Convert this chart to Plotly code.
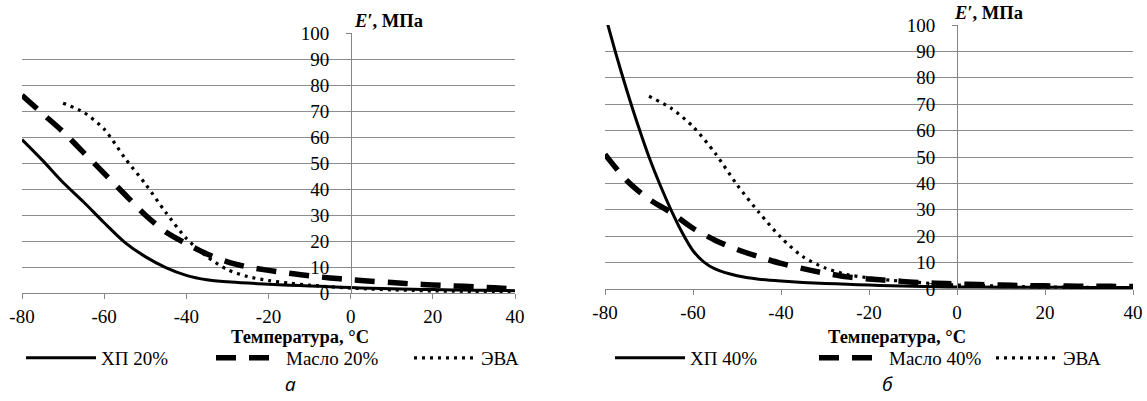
import plotly.graph_objects as go

# ---------------- data ----------------
x_ticks = [-80, -60, -40, -20, 0, 20, 40]
x_ticktext = ["-80", "-60", "-40", "-20", "0", "20", "40"]
y_ticks = [0, 10, 20, 30, 40, 50, 60, 70, 80, 90, 100]

# panel a
t_a = [-80, -75, -70, -65, -60, -55, -50, -45, -40, -35, -30, -25, -20,
       -15, -10, -5, 0, 5, 10, 15, 20, 25, 30, 35, 40]
xp20 = [59, 51, 42.5, 35, 27, 19.5, 14, 9.8, 6.8, 5.1, 4.3, 3.8, 3.4,
        3.0, 2.7, 2.4, 2.1, 1.8, 1.6, 1.4, 1.3, 1.2, 1.1, 1.0, 0.9]
oil20 = [76, 69, 62, 54, 46, 38, 30, 23.5, 19, 15, 12, 10, 8.7,
         7.6, 6.6, 5.8, 5.1, 4.5, 4.0, 3.5, 3.1, 2.7, 2.4, 2.0, 1.6]
t_eva = [-70, -65, -60, -55, -50, -45, -40, -35, -30, -25, -20, -15, -10,
         -5, 0, 5, 10, 15, 20, 25, 30, 35, 40]
eva_a = [73, 69.5, 63, 52, 42, 31, 21, 14, 9, 6.3, 4.8, 3.8, 3.0,
         2.4, 1.9, 1.5, 1.2, 1.0, 0.8, 0.7, 0.6, 0.5, 0.4]

# panel b
t_xp40 = [-80, -77.5, -75, -72.5, -70, -67.5, -65, -62.5, -60, -57.5, -55,
          -50, -45, -40, -35, -30, -25, -20, -15, -10, -5, 0, 10, 20, 30, 40]
xp40 = [104, 89, 75, 62, 50, 39.5, 30, 21.5, 14.5, 10.2, 7.6,
        5.0, 3.7, 3.0, 2.5, 2.1, 1.8, 1.5, 1.2, 1.0, 0.85, 0.75, 0.7, 0.65, 0.6, 0.6]
t_b = t_a
oil40 = [51, 41, 34, 29, 23, 18.5, 15, 12.2, 9.7, 7.7, 6.0, 4.6, 3.8,
         3.2, 2.6, 2.2, 1.9, 1.7, 1.5, 1.3, 1.2, 1.1, 1.0, 1.0, 0.9]
eva_b = [73, 68.5, 61.5, 51.5, 39.5, 29, 19.5, 12.2, 8.0, 5.5, 4.2, 3.3, 2.7,
         2.0, 1.5, 1.3, 1.1, 0.9, 0.8, 0.7, 0.6, 0.5, 0.5]

names_a = ["ХП 20%", "Масло 20%", "ЭВА"]
names_b = ["ХП 40%", "Масло 40%", "ЭВА"]

# ---------------- style ----------------
W, H = 1147, 401
SERIF = "Liberation Serif"
GRID = "#8c8c8c"
AX = "#868686"
solid = dict(color="black", width=3)
dashed = dict(color="black", width=5.5, dash="20px,13px")
dotted = dict(color="black", width=3.2, dash="3px,5px")

def px(v):
    return v / W

def py(v):
    return (H - v) / H

fig = go.Figure()

series = [
    (t_a, xp20, names_a[0], solid, "x", "y", "legend"),
    (t_a, oil20, names_a[1], dashed, "x", "y", "legend2"),
    (t_eva, eva_a, names_a[2], dotted, "x", "y", "legend3"),
    (t_xp40, xp40, names_b[0], solid, "x2", "y2", "legend4"),
    (t_b, oil40, names_b[1], dashed, "x2", "y2", "legend5"),
    (t_eva, eva_b, names_b[2], dotted, "x2", "y2", "legend6"),
]
for xs, ys, nm, ln, xa, ya, lg in series:
    fig.add_trace(go.Scatter(x=xs, y=ys, name=nm, mode="lines",
                             line=dict(shape="spline", smoothing=0.8, **ln),
                             xaxis=xa, yaxis=ya, legend=lg, hoverinfo="skip"))

tickfont = dict(family=SERIF, size=19, color="black")

def xax(domain, anchor):
    return dict(domain=domain, anchor=anchor, range=[-80, 40], tickvals=x_ticks,
                ticktext=x_ticktext, automargin=False,
                showgrid=False, zeroline=False, showline=True, linecolor=AX,
                linewidth=1, ticks="outside", ticklen=5, tickcolor=AX,
                tickfont=tickfont, ticklabelstandoff=1, fixedrange=True)

def yax(domain, pos):
    return dict(domain=domain, anchor="free", position=pos, range=[0, 100],
                tickvals=y_ticks, automargin=False,
                showgrid=True, gridcolor=GRID, gridwidth=1,
                zeroline=False, showline=True, linecolor=AX, linewidth=1,
                ticks="outside", ticklen=5, tickcolor=AX, tickfont=tickfont,
                ticklabelstandoff=13, fixedrange=True)

# left panel geometry (px): x -80 at 22, 40 at 515 ; y 0 at 293, 100 at 33
# right panel geometry (px): x -80 at 605, 40 at 1133 ; y 0 at 289, 100 at 25
fig.update_layout(
    xaxis=xax([px(22), px(515)], "y"),
    yaxis=yax([py(293), py(33)], px(351)),
    xaxis2=xax([px(605), px(1133)], "y2"),
    yaxis2=yax([py(289), py(25)], px(957)),
)

# legends: one per entry so each can be placed like the original
# (legend name: (left edge px, symbol width px))
leg_pos = {"legend": (21, 70), "legend2": (211, 65), "legend3": (409, 62),
           "legend4": (610, 70), "legend5": (814, 65), "legend6": (991, 62)}
for lg, (xpx, iw) in leg_pos.items():
    fig.update_layout({lg: dict(x=px(xpx), y=py(358), xanchor="left",
                                yanchor="middle", itemwidth=iw,
                                orientation="h", bgcolor="rgba(0,0,0,0)",
                                borderwidth=0, font=dict(family=SERIF, size=19, color="black"),
                                itemclick=False, itemdoubleclick=False)})

annots = []
for cx in (300, 897):
    annots.append(dict(text="<b>Температура, °C</b>", x=px(cx), y=py(337),
                       xref="paper", yref="paper", showarrow=False,
                       xanchor="center", yanchor="middle",
                       font=dict(family=SERIF, size=18.5, color="black")))
for cx, cy in ((388, 21), (988, 13)):
    annots.append(dict(text="<b><i>E′</i>, МПа</b>", x=px(cx), y=py(cy),
                       xref="paper", yref="paper", showarrow=False,
                       xanchor="center", yanchor="middle",
                       font=dict(family=SERIF, size=18.5, color="black")))
for txt, cx in (("а", 290), ("б", 887)):
    annots.append(dict(text=f"<i>{txt}</i>", x=px(cx), y=py(384),
                       xref="paper", yref="paper", showarrow=False,
                       xanchor="center", yanchor="middle",
                       font=dict(family="Noto Sans", size=19, color="black")))

fig.update_layout(
    template="none",
    width=W, height=H, autosize=False,
    margin=dict(l=0, r=0, t=0, b=0, pad=0),
    paper_bgcolor="white", plot_bgcolor="white",
    font=dict(family=SERIF, color="black"),
    annotations=annots,
    showlegend=True,
)

fig.write_html("out.html", config={"displayModeBar": False})
